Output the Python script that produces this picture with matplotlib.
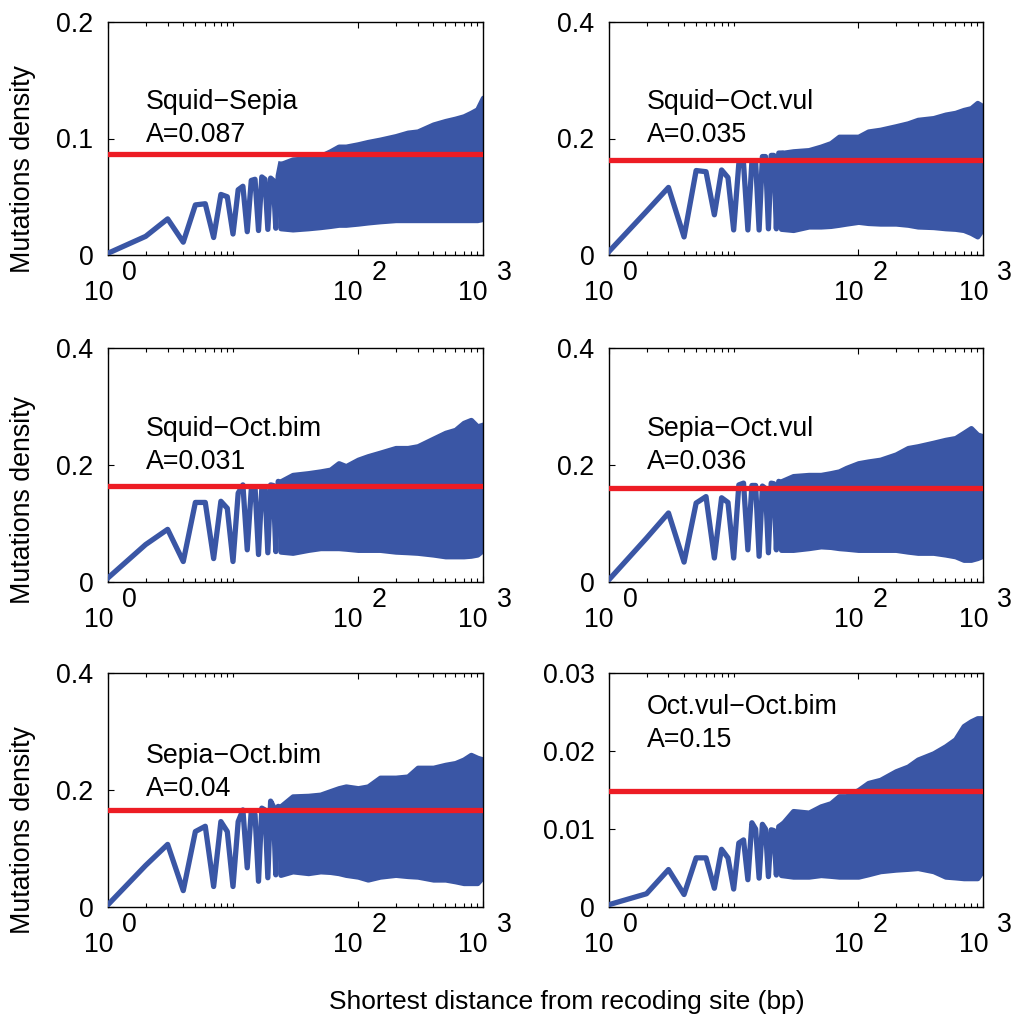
import numpy as np
import matplotlib
matplotlib.use("Agg")
import matplotlib.pyplot as plt
import matplotlib.transforms as mtransforms

plt.rcParams["font.family"] = ["Liberation Sans", "DejaVu Sans"]

# Пары видов и подписи
titles = ["Squid\u2212Sepia", "Squid\u2212Oct.vul", "Squid\u2212Oct.bim",
          "Sepia\u2212Oct.vul", "Sepia\u2212Oct.bim", "Oct.vul\u2212Oct.bim"]
a_labels = ["A=0.087", "A=0.035", "A=0.031", "A=0.036", "A=0.04", "A=0.15"]

# Красная горизонтальная линия (уровень)
red_level = [0.087, 0.163, 0.1635, 0.161, 0.165, 0.0149]

# Первые расстояния 1..24 bp — отдельные точки
near_x = list(range(1, 25))
near_tl = [0.0015, 0.016, 0.031, 0.011, 0.043, 0.044, 0.015, 0.052, 0.050, 0.018, 0.056, 0.059,
           0.020, 0.064, 0.065, 0.021, 0.067, 0.065, 0.022, 0.066, 0.064, 0.023, 0.068, 0.078]
near_tr = [0.006, 0.075, 0.116, 0.031, 0.145, 0.143, 0.069, 0.146, 0.133, 0.043, 0.157, 0.157,
           0.043, 0.160, 0.160, 0.043, 0.169, 0.169, 0.045, 0.171, 0.171, 0.045, 0.175, 0.175]
near_ml = [0.007, 0.064, 0.090, 0.035, 0.136, 0.136, 0.040, 0.138, 0.126, 0.035, 0.152, 0.166,
           0.055, 0.158, 0.163, 0.047, 0.160, 0.163, 0.050, 0.166, 0.165, 0.052, 0.172, 0.170]
near_mr = [0.004, 0.075, 0.118, 0.034, 0.135, 0.146, 0.041, 0.144, 0.136, 0.041, 0.166, 0.169,
           0.055, 0.165, 0.165, 0.044, 0.164, 0.160, 0.050, 0.169, 0.168, 0.055, 0.172, 0.170]
near_bl = [0.004, 0.071, 0.107, 0.028, 0.129, 0.138, 0.035, 0.146, 0.129, 0.035, 0.146, 0.166,
           0.067, 0.164, 0.158, 0.044, 0.169, 0.166, 0.050, 0.181, 0.172, 0.055, 0.172, 0.170]
near_br = [0.0003, 0.0017, 0.0048, 0.0016, 0.0063, 0.0063, 0.0024, 0.0074, 0.0063, 0.0023, 0.0082, 0.0086,
           0.0035, 0.0108, 0.0100, 0.0037, 0.0106, 0.0100, 0.0039, 0.0099, 0.0098, 0.0041, 0.0103, 0.0105]

# Дальше колебания сливаются в полосу: верхняя и нижняя огибающие
band_x = [24, 30, 40, 50, 60, 70, 80, 100, 120, 150, 200, 250, 300, 400, 500, 600, 700, 800, 900, 1000]
up_tl = [0.078, 0.082, 0.083, 0.085, 0.089, 0.093, 0.093, 0.095, 0.097, 0.099,
         0.102, 0.105, 0.106, 0.112, 0.115, 0.117, 0.119, 0.122, 0.125, 0.135]
lo_tl = [0.023, 0.022, 0.023, 0.024, 0.025, 0.026, 0.026, 0.027, 0.028, 0.029,
         0.030, 0.030, 0.030, 0.030, 0.030, 0.030, 0.030, 0.030, 0.030, 0.031]
up_tr = [0.175, 0.178, 0.180, 0.186, 0.192, 0.203, 0.203, 0.203, 0.212, 0.215,
         0.221, 0.226, 0.232, 0.235, 0.241, 0.244, 0.249, 0.252, 0.261, 0.255]
lo_tr = [0.045, 0.043, 0.049, 0.049, 0.050, 0.052, 0.054, 0.057, 0.055, 0.054,
         0.054, 0.052, 0.049, 0.048, 0.046, 0.045, 0.043, 0.038, 0.032, 0.046]
up_ml = [0.172, 0.183, 0.186, 0.189, 0.192, 0.203, 0.198, 0.209, 0.215, 0.221,
         0.229, 0.229, 0.232, 0.245, 0.255, 0.260, 0.272, 0.277, 0.266, 0.269]
lo_ml = [0.052, 0.050, 0.055, 0.058, 0.058, 0.058, 0.057, 0.055, 0.055, 0.055,
         0.052, 0.051, 0.050, 0.047, 0.044, 0.044, 0.044, 0.045, 0.047, 0.055]
up_mr = [0.172, 0.181, 0.183, 0.183, 0.186, 0.189, 0.195, 0.203, 0.206, 0.209,
         0.218, 0.229, 0.232, 0.238, 0.243, 0.246, 0.255, 0.263, 0.252, 0.249]
lo_mr = [0.055, 0.055, 0.058, 0.061, 0.060, 0.058, 0.057, 0.055, 0.055, 0.055,
         0.055, 0.052, 0.050, 0.050, 0.047, 0.044, 0.038, 0.038, 0.041, 0.045]
up_bl = [0.172, 0.189, 0.190, 0.192, 0.198, 0.203, 0.206, 0.203, 0.206, 0.221,
         0.221, 0.223, 0.238, 0.238, 0.243, 0.246, 0.252, 0.260, 0.255, 0.252]
lo_bl = [0.055, 0.061, 0.058, 0.061, 0.060, 0.058, 0.055, 0.052, 0.047, 0.052,
         0.055, 0.053, 0.052, 0.047, 0.047, 0.044, 0.041, 0.041, 0.041, 0.052]
up_br = [0.0105, 0.0123, 0.0121, 0.0129, 0.0133, 0.0142, 0.0142, 0.0150, 0.0159, 0.0163,
         0.0174, 0.0180, 0.0189, 0.0197, 0.0206, 0.0215, 0.0232, 0.0238, 0.0242, 0.0242]
lo_br = [0.0041, 0.0039, 0.0039, 0.0041, 0.0040, 0.0039, 0.0039, 0.0039, 0.0042, 0.0046,
         0.0048, 0.0049, 0.0050, 0.0046, 0.0039, 0.0038, 0.0037, 0.0037, 0.0037, 0.0048]

near_all = [near_tl, near_tr, near_ml, near_mr, near_bl, near_br]
up_all = [up_tl, up_tr, up_ml, up_mr, up_bl, up_br]
lo_all = [lo_tl, lo_tr, lo_ml, lo_mr, lo_bl, lo_br]

# Оси Y
y_max = [0.2, 0.4, 0.4, 0.4, 0.4, 0.03]
y_ticks = [[0, 0.1, 0.2], [0, 0.2, 0.4], [0, 0.2, 0.4], [0, 0.2, 0.4], [0, 0.2, 0.4], [0, 0.01, 0.02, 0.03]]
y_ticklabels = [["0", "0.1", "0.2"], ["0", "0.2", "0.4"], ["0", "0.2", "0.4"],
                ["0", "0.2", "0.4"], ["0", "0.2", "0.4"], ["0", "0.01", "0.02", "0.03"]]
x_major = [1, 100, 1000]
x_exp = ["0", "2", "3"]

# Размещение (пиксели -> доли фигуры)
W, H = 1011, 1016
col_x = [108, 609]
col_w = [375, 374]
row_top = [22, 348, 673]
row_h = [233, 234, 234]
text_base_y = [0.1256, 0.2511, 0.2496, 0.2496, 0.2467, 0.0247]  # базовая линия первой строки
ylabel_y = [0.367, 0.352, 0.328]

BLUE = "#3A56A5"
RED = "#ED1C24"
FS = 19.3
LW = 3.8

fig = plt.figure(figsize=(W / 100, H / 100), dpi=100)

for i in range(6):
    r, c = divmod(i, 2)
    ax = fig.add_axes([col_x[c] / W, 1 - (row_top[r] + row_h[r]) / H, col_w[c] / W, row_h[r] / H])

    # полоса и начальный участок
    ax.fill_between(band_x, lo_all[i], up_all[i], facecolor=BLUE, edgecolor=BLUE, linewidth=LW, zorder=2)
    ax.plot(near_x, near_all[i], color=BLUE, linewidth=LW, zorder=3)
    ax.plot([1, 1000], [red_level[i], red_level[i]], color=RED, linewidth=3.8, zorder=4)

    ax.set_xscale("log")
    ax.set_xlim(1, 1000)
    ax.set_ylim(0, y_max[i])
    ax.set_yticks(y_ticks[i])
    ax.set_yticklabels(y_ticklabels[i])
    ax.set_xticks(x_major)
    ax.set_xticks(list(range(2, 11)) + list(range(200, 1000, 100)), minor=True)
    ax.tick_params(axis="both", which="both", direction="in", top=True, right=True,
                   labelbottom=False, labelsize=FS, width=0.8)
    ax.tick_params(axis="both", which="major", length=4.5)
    ax.tick_params(axis="both", which="minor", length=3)
    ax.tick_params(axis="y", pad=10.5)
    for sp in ax.spines.values():
        sp.set_linewidth(1.0)

    # подписи оси X в стиле 10 с показателем
    base = mtransforms.blended_transform_factory(ax.transData, ax.transAxes)
    t10 = mtransforms.offset_copy(base, fig=fig, x=5, y=-45, units="dots")
    texp = mtransforms.offset_copy(base, fig=fig, x=14, y=-25, units="dots")
    for xv, ex in zip(x_major, x_exp):
        ax.text(xv, 0, "10", transform=t10, ha="right", va="baseline", fontsize=FS, clip_on=False)
        ax.text(xv, 0, ex, transform=texp, ha="left", va="baseline", fontsize=FS, clip_on=False)

    # название пары и A
    tline2 = mtransforms.offset_copy(ax.transData, fig=fig, x=0, y=-33, units="dots")
    ax.text(2, text_base_y[i], titles[i], ha="left", va="baseline", fontsize=FS, zorder=5)
    ax.text(2, text_base_y[i], a_labels[i], transform=tline2, ha="left", va="baseline",
            fontsize=FS, zorder=5)

    if c == 0:
        ax.text(-0.227, ylabel_y[r], "Mutations density", transform=ax.transAxes, rotation=90,
                ha="center", va="center", fontsize=FS)

fig.text(567 / W, 1 - 1009 / H, "Shortest distance from recoding site (bp)",
         ha="center", va="baseline", fontsize=19)

fig.savefig("out.png", dpi=100)
